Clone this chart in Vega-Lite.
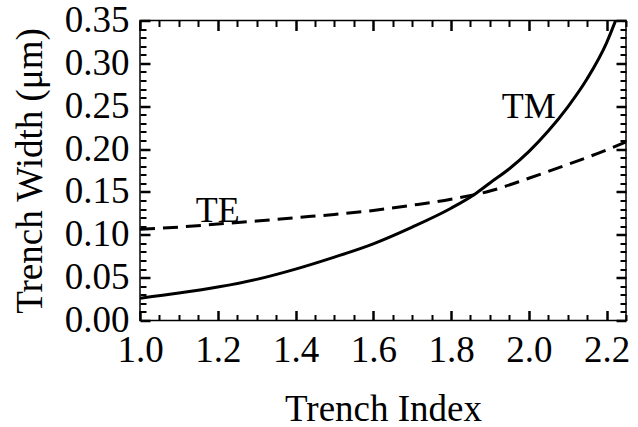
{
  "$schema": "https://vega.github.io/schema/vega-lite/v6.json",
  "width": 486,
  "height": 300,
  "autosize": "none",
  "padding": {"left": 140, "top": 20.5, "right": 12, "bottom": 106.5},
  "background": "white",
  "config": {
    "view": {"stroke": "black", "strokeWidth": 1.5},
    "font": "Liberation Serif",
    "axis": {
      "domain": false,
      "grid": false,
      "tickColor": "black",
      "tickWidth": 2.5,
      "labelFont": "Liberation Serif",
      "labelFontSize": 37,
      "labelColor": "black",
      "labelOverlap": false,
      "labelBound": false,
      "labelFlush": false,
      "titleFont": "Liberation Serif",
      "titleFontSize": 37,
      "titleFontWeight": "normal",
      "titleColor": "black"
    }
  },
  "datasets": {
    "tm": [
      {"index": 1.0, "width": 0.026},
      {"index": 1.1, "width": 0.032},
      {"index": 1.2, "width": 0.039},
      {"index": 1.3, "width": 0.048},
      {"index": 1.4, "width": 0.060},
      {"index": 1.5, "width": 0.074},
      {"index": 1.6, "width": 0.0895},
      {"index": 1.7, "width": 0.109},
      {"index": 1.8, "width": 0.131},
      {"index": 1.86, "width": 0.147},
      {"index": 1.9, "width": 0.1605},
      {"index": 1.95, "width": 0.177},
      {"index": 2.0, "width": 0.197},
      {"index": 2.05, "width": 0.221},
      {"index": 2.1, "width": 0.249},
      {"index": 2.15, "width": 0.282},
      {"index": 2.2, "width": 0.324},
      {"index": 2.2233, "width": 0.350}
    ],
    "te": [
      {"index": 1.0, "width": 0.1065},
      {"index": 1.1, "width": 0.109},
      {"index": 1.2, "width": 0.1125},
      {"index": 1.3, "width": 0.116},
      {"index": 1.4, "width": 0.120},
      {"index": 1.5, "width": 0.1237},
      {"index": 1.6, "width": 0.1284},
      {"index": 1.7, "width": 0.1345},
      {"index": 1.8, "width": 0.1415},
      {"index": 1.9, "width": 0.151},
      {"index": 2.0, "width": 0.166},
      {"index": 2.1, "width": 0.182},
      {"index": 2.2, "width": 0.199},
      {"index": 2.25, "width": 0.2085}
    ],
    "label_te": [
      {"index": 1.2, "width": 0.115, "text": "TE"}
    ],
    "label_tm": [
      {"index": 2.0, "width": 0.2367, "text": "TM"}
    ]
  },
  "resolve": {"axis": {"x": "independent", "y": "independent"}},
  "layer": [
    {
      "data": {"name": "tm"},
      "mark": {"type": "line", "color": "black", "strokeWidth": 3, "interpolate": "monotone", "clip": true},
      "encoding": {
        "x": {
          "field": "index", "type": "quantitative",
          "scale": {"domain": [1, 2.25], "nice": false, "zero": false},
          "axis": {
            "orient": "bottom",
            "title": "Trench Index",
            "values": [1.0, 1.2, 1.4, 1.6, 1.8, 2.0, 2.2],
            "format": ".1f",
            "tickColor": "black",
            "tickWidth": 2.5,
            "tickSize": 10,
            "offset": -10,
            "labelPadding": 12,
            "titleBaseline": "alphabetic",
            "titleY": 109.5
          }
        },
        "y": {
          "field": "width", "type": "quantitative",
          "scale": {"domain": [0, 0.35], "nice": false},
          "axis": {
            "orient": "left",
            "title": "Trench Width (μm)",
            "values": [0, 0.05, 0.1, 0.15, 0.2, 0.25, 0.3, 0.35],
            "format": ".2f",
            "tickColor": "black",
            "tickWidth": 2.5,
            "tickSize": 10,
            "offset": -10,
            "labelPadding": 11,
            "titleBaseline": "alphabetic",
            "titleX": -109
          }
        }
      }
    },
    {
      "data": {"name": "te"},
      "mark": {"type": "line", "color": "black", "strokeWidth": 3, "strokeDash": [15, 8], "interpolate": "monotone", "clip": true},
      "encoding": {
        "x": {
          "field": "index", "type": "quantitative",
          "scale": {"domain": [1, 2.25], "nice": false, "zero": false},
          "axis": {
            "orient": "top", "title": null, "labels": false,
            "values": [1.0, 1.2, 1.4, 1.6, 1.8, 2.0, 2.2],
            "tickColor": "black",
            "tickWidth": 2.5,
            "tickSize": 10,
            "offset": -10
          }
        },
        "y": {
          "field": "width", "type": "quantitative",
          "scale": {"domain": [0, 0.35], "nice": false},
          "axis": {
            "orient": "right", "title": null, "labels": false,
            "values": [0, 0.05, 0.1, 0.15, 0.2, 0.25, 0.3, 0.35],
            "tickColor": "black",
            "tickWidth": 2.5,
            "tickSize": 10,
            "offset": -10
          }
        }
      }
    },
    {
      "data": {"name": "label_te"},
      "mark": {"type": "text", "font": "Liberation Serif", "fontSize": 36, "color": "black", "align": "center", "baseline": "alphabetic"},
      "encoding": {
        "x": {
          "field": "index", "type": "quantitative",
          "scale": {"domain": [1, 2.25], "nice": false, "zero": false},
          "axis": {
            "orient": "bottom", "title": null, "labels": false,
            "values": [1.05, 1.1, 1.15, 1.25, 1.3, 1.35, 1.45, 1.5, 1.55, 1.65, 1.7, 1.75, 1.85, 1.9, 1.95, 2.05, 2.1, 2.15, 2.25],
            "tickColor": "black",
            "tickWidth": 2,
            "tickSize": 6,
            "offset": -6
          }
        },
        "y": {
          "field": "width", "type": "quantitative",
          "scale": {"domain": [0, 0.35], "nice": false},
          "axis": {
            "orient": "left", "title": null, "labels": false,
            "values": [0.01,0.02,0.03,0.04,0.06,0.07,0.08,0.09,0.11,0.12,0.13,0.14,0.16,0.17,0.18,0.19,0.21,0.22,0.23,0.24,0.26,0.27,0.28,0.29,0.31,0.32,0.33,0.34],
            "tickColor": "black",
            "tickWidth": 2,
            "tickSize": 6,
            "offset": -6
          }
        },
        "text": {"field": "text"}
      }
    },
    {
      "data": {"name": "label_tm"},
      "mark": {"type": "text", "font": "Liberation Serif", "fontSize": 36, "color": "black", "align": "center", "baseline": "alphabetic"},
      "encoding": {
        "x": {
          "field": "index", "type": "quantitative",
          "scale": {"domain": [1, 2.25], "nice": false, "zero": false},
          "axis": {
            "orient": "top", "title": null, "labels": false,
            "values": [1.05, 1.1, 1.15, 1.25, 1.3, 1.35, 1.45, 1.5, 1.55, 1.65, 1.7, 1.75, 1.85, 1.9, 1.95, 2.05, 2.1, 2.15, 2.25],
            "tickColor": "black",
            "tickWidth": 2,
            "tickSize": 6,
            "offset": -6
          }
        },
        "y": {
          "field": "width", "type": "quantitative",
          "scale": {"domain": [0, 0.35], "nice": false},
          "axis": {
            "orient": "right", "title": null, "labels": false,
            "values": [0.01,0.02,0.03,0.04,0.06,0.07,0.08,0.09,0.11,0.12,0.13,0.14,0.16,0.17,0.18,0.19,0.21,0.22,0.23,0.24,0.26,0.27,0.28,0.29,0.31,0.32,0.33,0.34],
            "tickColor": "black",
            "tickWidth": 2,
            "tickSize": 6,
            "offset": -6
          }
        },
        "text": {"field": "text"}
      }
    }
  ]
}
